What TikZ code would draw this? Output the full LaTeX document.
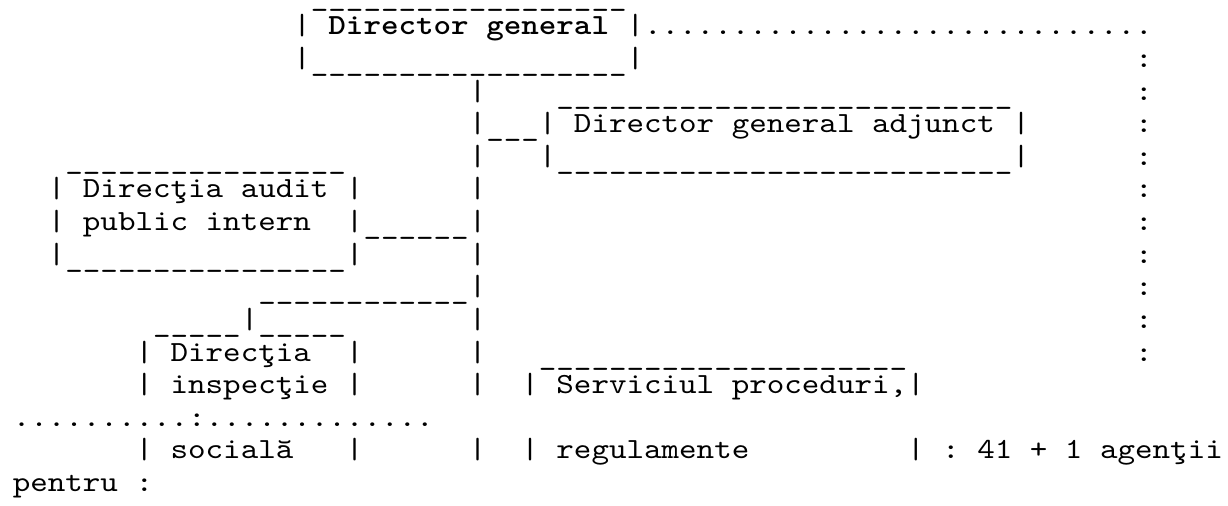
\documentclass[tikz,border=0pt]{standalone}
\usepackage{fontspec}
\usetikzlibrary{positioning}
\newfontfamily\asciifont{lmmono10-regular.otf}[FakeStretch=1.1429,BoldFont=lmmonolt10-bold.otf]
\ExplSyntaxOn
\cs_new_eq:NN \reptext \prg_replicate:nn
\ExplSyntaxOff
\newcommand\gap[1]{\hphantom{\reptext{#1}{x}}}
\newcommand\us[1]{\lower0.14em\hbox{\reptext{#1}{\_}}}
\newcommand\dt[1]{\reptext{#1}{.}}

\tikzset{every picture/.style={line width=0.75pt},
  asciirow/.style={anchor=base west,inner sep=0pt,font=\asciifont\fontsize{21.92}{24.45}\selectfont}}

\begin{document}
\begin{tikzpicture}[x=0.75pt,y=0.75pt,yscale=-1,xscale=1]
\useasboundingbox (0,0) rectangle (1228,506); %diagram 1228 x 506

% Text Node
\draw (12.3,2.4) node [asciirow] (dgTop) {\gap{17}\us{18}};
% Text Node
\draw (12.3,35) node [asciirow] (dg) {\gap{16}|\gap{1}\textbf{Director general}\gap{1}|\dt{29}};
% Text Node
\draw (12.3,67.6) node [asciirow] (dgBottom) {\gap{16}|\us{18}|\gap{28}:};
% Text Node
\draw (12.3,100.2) node [asciirow] (dgaTop) {\gap{26}|\gap{4}\us{26}\gap{7}:};
% Text Node
\draw (12.3,132.8) node [asciirow] (dga) {\gap{26}|\us{3}|\gap{1}Director general adjunct\gap{1}|\gap{6}:};
% Text Node
\draw (12.3,165.4) node [asciirow] (dgaBottom) {\gap{3}\us{16}\gap{7}|\gap{3}|\us{26}|\gap{6}:};
% Text Node
\draw (12.3,198) node [asciirow] (audit) {\gap{2}|\gap{1}Direcţia audit\gap{1}|\gap{6}|\gap{37}:};
% Text Node
\draw (12.3,230.6) node [asciirow] (auditB) {\gap{2}|\gap{1}public intern\gap{2}|\us{6}|\gap{37}:};
% Text Node
\draw (12.3,263.2) node [asciirow] (auditBottom) {\gap{2}|\us{16}|\gap{6}|\gap{37}:};
% Text Node
\draw (12.3,295.8) node [asciirow] (branch) {\gap{14}\us{12}|\gap{37}:};
% Text Node
\draw (12.3,328.4) node [asciirow] (inspTop) {\gap{8}\us{5}|\us{5}\gap{7}|\gap{37}:};
% Text Node
\draw (12.3,361) node [asciirow] (insp) {\gap{7}|\gap{1}Direcţia\gap{2}|\gap{6}|\gap{3}\us{21}\gap{13}:};
% Text Node
\draw (12.3,393.6) node [asciirow] (inspB) {\gap{7}|\gap{1}inspecţie\gap{1}|\gap{6}|\gap{2}|\gap{1}Serviciul proceduri,|};
% Text Node
\draw (12.3,426.2) node [asciirow] (dots) {\dt{10}:\dt{13}};
% Text Node
\draw (12.3,458.8) node [asciirow] (inspC) {\gap{7}|\gap{1}socială\gap{3}|\gap{6}|\gap{2}|\gap{1}regulamente\gap{9}|\gap{1}:\gap{1}41 + 1 agenţii};
% Text Node
\draw (12.3,491.4) node [asciirow] (pentru) {pentru :};
\end{tikzpicture}
\end{document}
